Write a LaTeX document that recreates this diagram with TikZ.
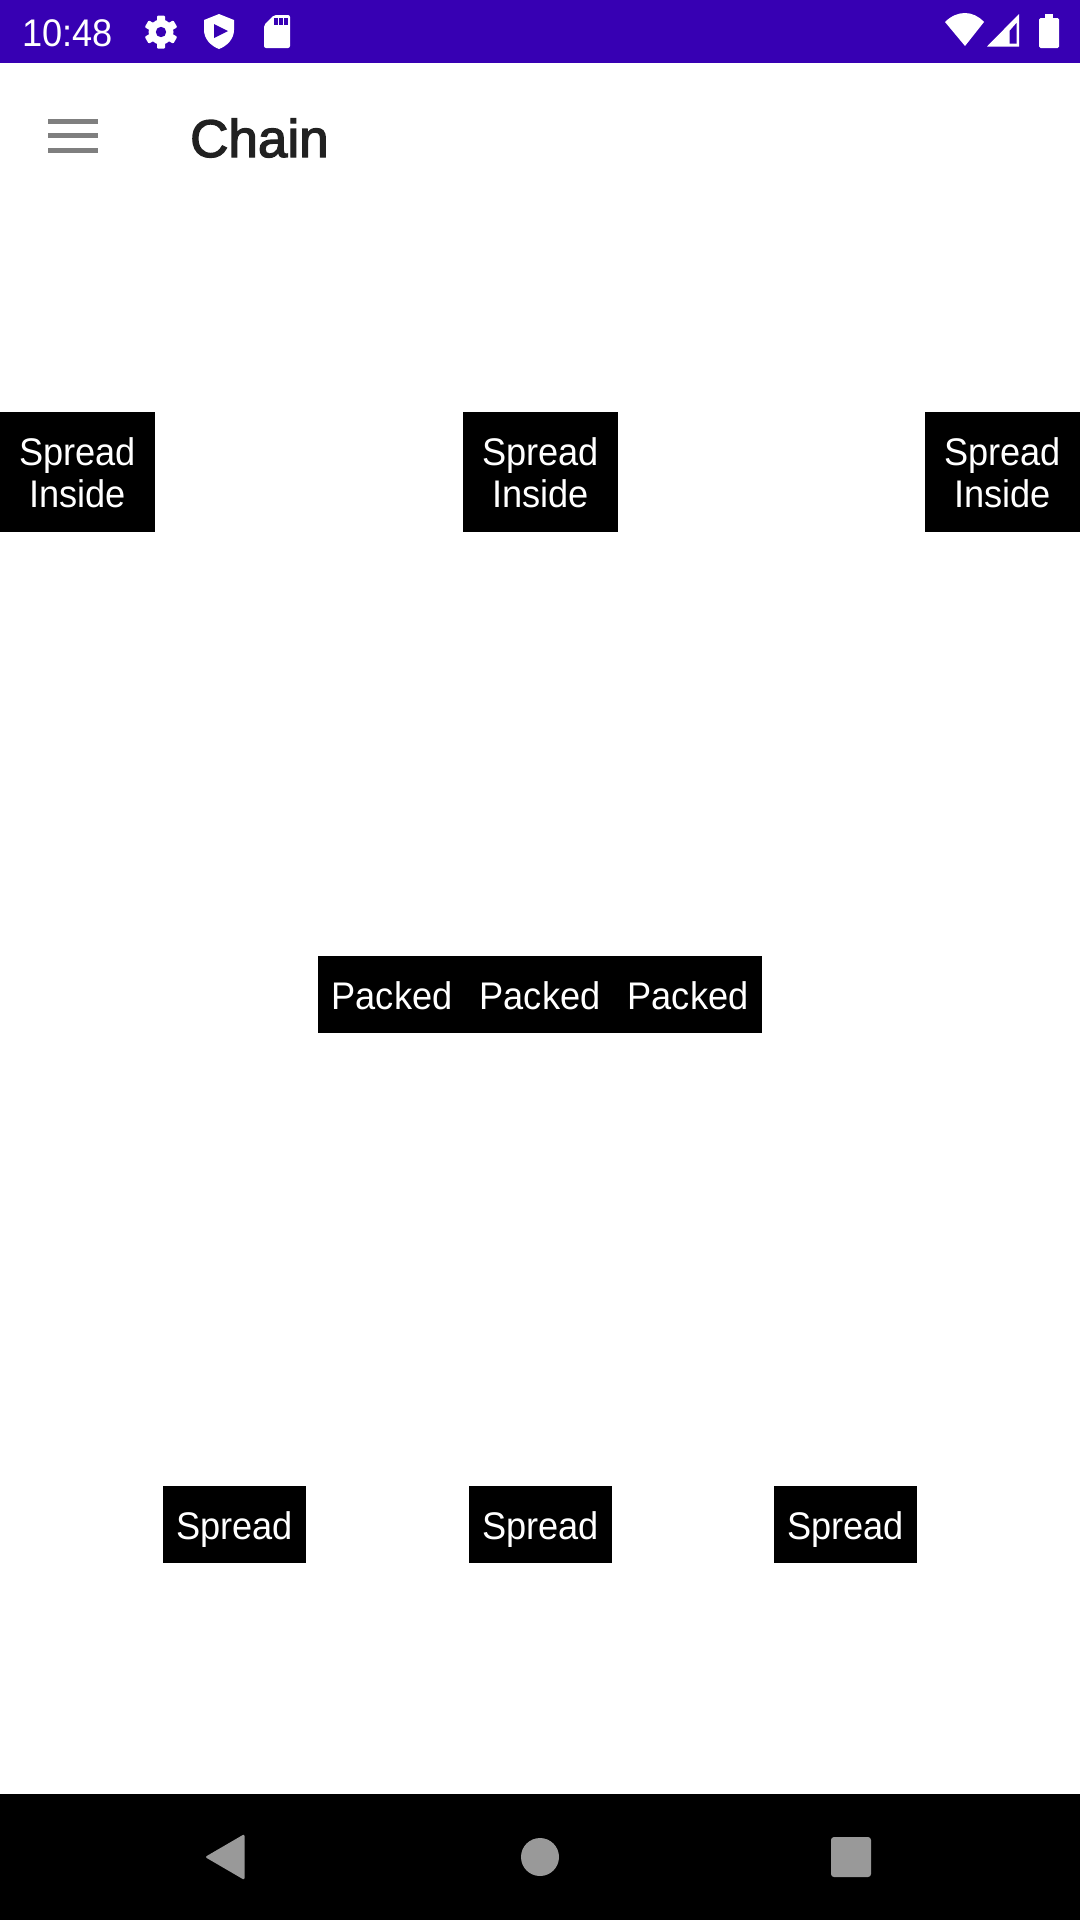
\documentclass[tikz,border=0pt]{standalone}
\usepackage{fontspec}
\setmainfont[FakeStretch=0.94]{Liberation Sans}
\newfontfamily\titlefont[FakeBold=2.5]{Liberation Sans}
\definecolor{barpurple}{HTML}{3700B3}
\definecolor{navgray}{HTML}{999999}
\definecolor{menugray}{HTML}{7F7F7F}
\definecolor{titleblack}{HTML}{212121}

\begin{document}
\begin{tikzpicture}[x=1pt, y=-1pt,
    chainbox/.style={fill=black, text=white, inner sep=0pt, align=center, font=\fontsize{38.5}{42}\selectfont},
    wideone/.style={chainbox, minimum width=155pt, minimum height=120pt, text height=72pt, text depth=2pt},
    packedone/.style={chainbox, minimum width=148pt, minimum height=77pt, text height=35pt, text depth=6pt},
    spreadone/.style={chainbox, minimum width=143pt, minimum height=77pt, text height=35pt, text depth=6pt},
    icon/.style={fill=white, draw=none},
    cutout/.style={fill=barpurple, draw=none},
    navicon/.style={fill=navgray, draw=none}]
    \useasboundingbox (0,0) rectangle (1080,1920);

    % bars
    \fill[barpurple] (0,0) rectangle (1080,63);
    \fill[black] (0,1794) rectangle (1080,1920);

    % status bar, left
    \node[text=white, inner sep=0pt, anchor=base west, font=\fontsize{38.5}{38.5}\selectfont] (clock) at (22,46) {10:48};
    \foreach \a in {0,60,...,300} {
        \fill[icon, rounded corners=1pt, rotate around={\a:(161,32)}] (157,32) rectangle (165,15.5);
    }
    \fill[icon] (161,32) circle (12.5);
    \fill[cutout] (161,32) circle (5.2);
    \fill[icon] (219,14) -- (234,20) -- (234,30) .. controls (234,39) and (227,46) .. (219,49)
        .. controls (211,46) and (204,39) .. (204,30) -- (204,20) -- cycle;
    \fill[cutout] (214,24) -- (228,31) -- (214,38) -- cycle;
    \fill[icon, rounded corners=2pt] (274,15) -- (290,15) -- (290,48) -- (264,48) -- (264,25) -- cycle;
    \foreach \x in {274,279,284} {
        \fill[cutout] (\x,18) rectangle (\x+3.5,25);
    }

    % status bar, right
    \fill[icon] (965,46) -- (945,22) .. controls (957,10) and (973,10) .. (984,22) -- cycle;
    \fill[icon] (987,46.5) -- (1019,14) -- (1019,46.5) -- cycle;
    \fill[cutout] (1009.5,43.5) -- (1009.5,31) -- (1016.5,23) -- (1016.5,43.5) -- cycle;
    \fill[icon, rounded corners=1.5pt] (1039,18) rectangle (1059,48);
    \fill[icon] (1045,14) rectangle (1053,19);

    % app bar
    \foreach \y in {119,133,148} {
        \fill[menugray] (48,\y) rectangle (98,\y+5);
    }
    \node[text=titleblack, inner sep=0pt, anchor=base west, font=\titlefont\fontsize{53}{53}\selectfont] (title) at (190,157) {Chain};

    % spread inside
    \node[wideone] (inside1) at (77.5,472) {Spread\\Inside};
    \node[wideone] (inside2) at (540.5,472) {Spread\\Inside};
    \node[wideone] (inside3) at (1002.5,472) {Spread\\Inside};

    % packed
    \node[packedone] (packed1) at (392,994.5) {Packed};
    \node[packedone] (packed2) at (540,994.5) {Packed};
    \node[packedone] (packed3) at (688,994.5) {Packed};

    % spread
    \node[spreadone] (spread1) at (234.5,1524.5) {Spread};
    \node[spreadone] (spread2) at (540.5,1524.5) {Spread};
    \node[spreadone] (spread3) at (845.5,1524.5) {Spread};

    % navigation
    \fill[navicon, rounded corners=2pt] (244.5,1834) -- (205,1857) -- (244.5,1880) -- cycle;
    \fill[navicon] (540,1857) circle (19);
    \fill[navicon, rounded corners=3pt] (831,1837) rectangle (871,1877);
\end{tikzpicture}
\end{document}
